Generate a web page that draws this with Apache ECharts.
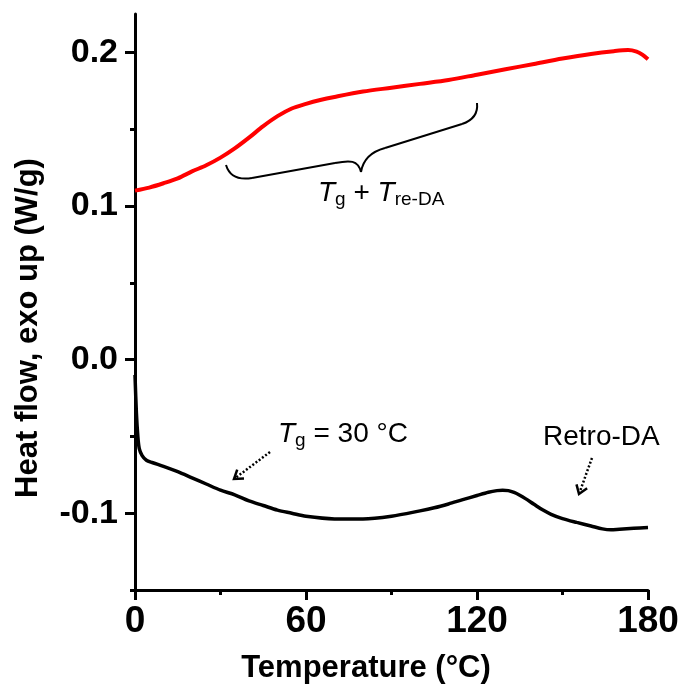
<!DOCTYPE html>
<html>
<head>
<meta charset="utf-8">
<script src="https://cdn.jsdelivr.net/npm/echarts@6/dist/echarts.min.js"></script>
<style>
html,body{margin:0;padding:0;background:#fff;}
#chart{width:683px;height:691px;}
</style>
</head>
<body>
<div id="chart"></div>
<script>
// ---- data ----
const redT  = [0, 5, 10, 15, 20, 25, 30, 35, 40, 45, 50, 55, 60, 65, 70, 80, 90, 100, 110, 120, 130, 140, 150, 160, 168, 173, 176, 178, 180];
const redHF = [0.110, 0.112, 0.1148, 0.118, 0.1225, 0.1265, 0.1315, 0.1375, 0.1445, 0.152, 0.1585, 0.1635, 0.1665, 0.169, 0.171, 0.1745, 0.177, 0.1795, 0.182, 0.1855, 0.189, 0.1925, 0.196, 0.199, 0.2008, 0.2015, 0.2005, 0.1985, 0.1955];

const blackT  = [0, 0.5, 1, 1.5, 2.5, 4, 6, 10, 15, 20, 25, 30, 35, 40, 45, 50, 55, 60, 70, 80, 90, 100, 105, 110, 115, 120, 124, 127, 129, 131, 133, 135, 137, 140, 143, 146, 150, 155, 160, 164, 167, 170, 175, 180];
const blackHF = [-0.01, -0.035, -0.05, -0.058, -0.0625, -0.0655, -0.067, -0.0695, -0.073, -0.077, -0.081, -0.085, -0.088, -0.092, -0.095, -0.098, -0.100, -0.102, -0.1037, -0.1038, -0.102, -0.0985, -0.0965, -0.094, -0.0912, -0.0885, -0.0864, -0.0853, -0.085, -0.0853, -0.0865, -0.0883, -0.0905, -0.0942, -0.0978, -0.1007, -0.1035, -0.106, -0.1083, -0.1102, -0.1108, -0.1104, -0.1098, -0.1093];

const xTicks = [0, 60, 120, 180];
const xMinor = [30, 90, 150];
const yTicks = [-0.1, 0, 0.1, 0.2];
const yMinor = [-0.15, -0.05, 0.05, 0.15];

const FONT = 'Liberation Sans, Arial, sans-serif';
const chart = echarts.init(document.getElementById('chart'));

function arrow(x1, y1, x2, y2) {
  const dx = x2 - x1, dy = y2 - y1, L = Math.hypot(dx, dy);
  const ux = dx / L, uy = dy / L, h = 10, a = 0.6;
  const c = Math.cos(a), s = Math.sin(a);
  const p1 = [x2 - h * (ux * c - uy * s), y2 - h * (uy * c + ux * s)];
  const p2 = [x2 - h * (ux * c + uy * s), y2 - h * (uy * c - ux * s)];
  return [
    { type: 'line', shape: { x1: x1, y1: y1, x2: x2 - ux * 2, y2: y2 - uy * 2 },
      style: { stroke: '#000', lineWidth: 2.5, lineDash: [2, 2] } },
    { type: 'polyline', shape: { points: [p1, [x2, y2], p2] },
      style: { stroke: '#000', lineWidth: 2.5, fill: null } }
  ];
}

function bez(x1, y1, c1x, c1y, c2x, c2y, x2, y2) {
  return { type: 'bezierCurve',
    shape: { x1: x1, y1: y1, cpx1: c1x, cpy1: c1y, cpx2: c2x, cpy2: c2y, x2: x2, y2: y2 },
    style: { stroke: '#000', lineWidth: 2, fill: null } };
}
function seg(x1, y1, x2, y2) {
  return { type: 'line', shape: { x1: x1, y1: y1, x2: x2, y2: y2 }, style: { stroke: '#000', lineWidth: 2 } };
}

const brace = [
  bez(226, 165, 230, 178, 240, 180, 252, 178),
  seg(252, 178, 335, 163),
  bez(335, 163, 350, 160, 358, 160, 361, 172),
  bez(361, 172, 363, 160, 370, 152, 385, 148),
  seg(385, 148, 462, 124),
  bez(462, 124, 474, 120, 478, 112, 477, 103)
];

const richT = {
  i: { fontStyle: 'italic', fontSize: 28, fontFamily: FONT, color: '#000' },
  n: { fontSize: 28, fontFamily: FONT, color: '#000' },
  s: { fontSize: 19, fontFamily: FONT, color: '#000', padding: [14, 0, 0, 0] }
};

const option = {
  animation: false,
  backgroundColor: '#fff',
  grid: { left: 135, right: 35, top: 14, bottom: 101, containLabel: false },
  xAxis: [
    {
      type: 'value', min: 0, max: 180,
      axisLine: { show: true, onZero: false, lineStyle: { color: '#000', width: 3 } },
      axisTick: { show: true, customValues: xTicks, length: 10, lineStyle: { color: '#000', width: 3 } },
      axisLabel: { customValues: xTicks, fontSize: 37, fontWeight: 'bold', color: '#000', fontFamily: FONT, margin: 13 },
      splitLine: { show: false }
    },
    {
      type: 'value', min: 0, max: 180, position: 'bottom',
      axisLine: { show: false, onZero: false },
      axisTick: { show: true, customValues: xMinor, length: 5, lineStyle: { color: '#000', width: 3 } },
      axisLabel: { show: false },
      splitLine: { show: false }
    }
  ],
  yAxis: [
    {
      type: 'value', min: -0.15, max: 0.225,
      axisLine: { show: true, onZero: false, lineStyle: { color: '#000', width: 3 } },
      axisTick: { show: true, customValues: yTicks, length: 10, lineStyle: { color: '#000', width: 3 } },
      axisLabel: { customValues: yTicks, fontSize: 34, fontWeight: 'bold', color: '#000', fontFamily: FONT, margin: 17,
                   formatter: v => v.toFixed(1) },
      splitLine: { show: false }
    },
    {
      type: 'value', min: -0.15, max: 0.225, position: 'left',
      axisLine: { show: false, onZero: false },
      axisTick: { show: true, customValues: yMinor, length: 5, lineStyle: { color: '#000', width: 3 } },
      axisLabel: { show: false },
      splitLine: { show: false }
    }
  ],
  series: [
    {
      type: 'line', xAxisIndex: 0, yAxisIndex: 0, showSymbol: false, smooth: 0.3,
      data: redT.map((t, i) => [t, redHF[i]]),
      lineStyle: { color: '#ff0000', width: 4 }, itemStyle: { color: '#ff0000' }
    },
    {
      type: 'line', xAxisIndex: 0, yAxisIndex: 0, showSymbol: false, smooth: 0.3,
      data: blackT.map((t, i) => [t, blackHF[i]]),
      lineStyle: { color: '#000', width: 3.5 }, itemStyle: { color: '#000' }
    }
  ],
  graphic: [
    { type: 'text', x: 366, y: 668,
      style: { text: 'Temperature (°C)', fontSize: 31, fontWeight: 'bold', fontFamily: FONT, fill: '#000',
               textAlign: 'center', textVerticalAlign: 'middle' } },
    { type: 'text', x: 28, y: 328, rotation: Math.PI / 2,
      style: { text: 'Heat flow, exo up (W/g)', fontSize: 31, fontWeight: 'bold', fontFamily: FONT, fill: '#000',
               textAlign: 'center', textVerticalAlign: 'middle' } },
    { type: 'text', x: 278, y: 434,
      style: { text: '{i|T}{s|g}{n| = 30 °C}', rich: richT, textAlign: 'left', textVerticalAlign: 'middle' } },
    { type: 'text', x: 543, y: 437,
      style: { text: 'Retro-DA', fontSize: 28, fontFamily: FONT, fill: '#000', textAlign: 'left', textVerticalAlign: 'middle' } },
    { type: 'text', x: 318, y: 193,
      style: { text: '{i|T}{s|g}{n| + }{i|T}{s|re-DA}', rich: richT, textAlign: 'left', textVerticalAlign: 'middle' } }
  ].concat(brace).concat(arrow(270, 452, 234, 479)).concat(arrow(592, 458, 579, 494))
};
chart.setOption(option);
</script>
</body>
</html>
